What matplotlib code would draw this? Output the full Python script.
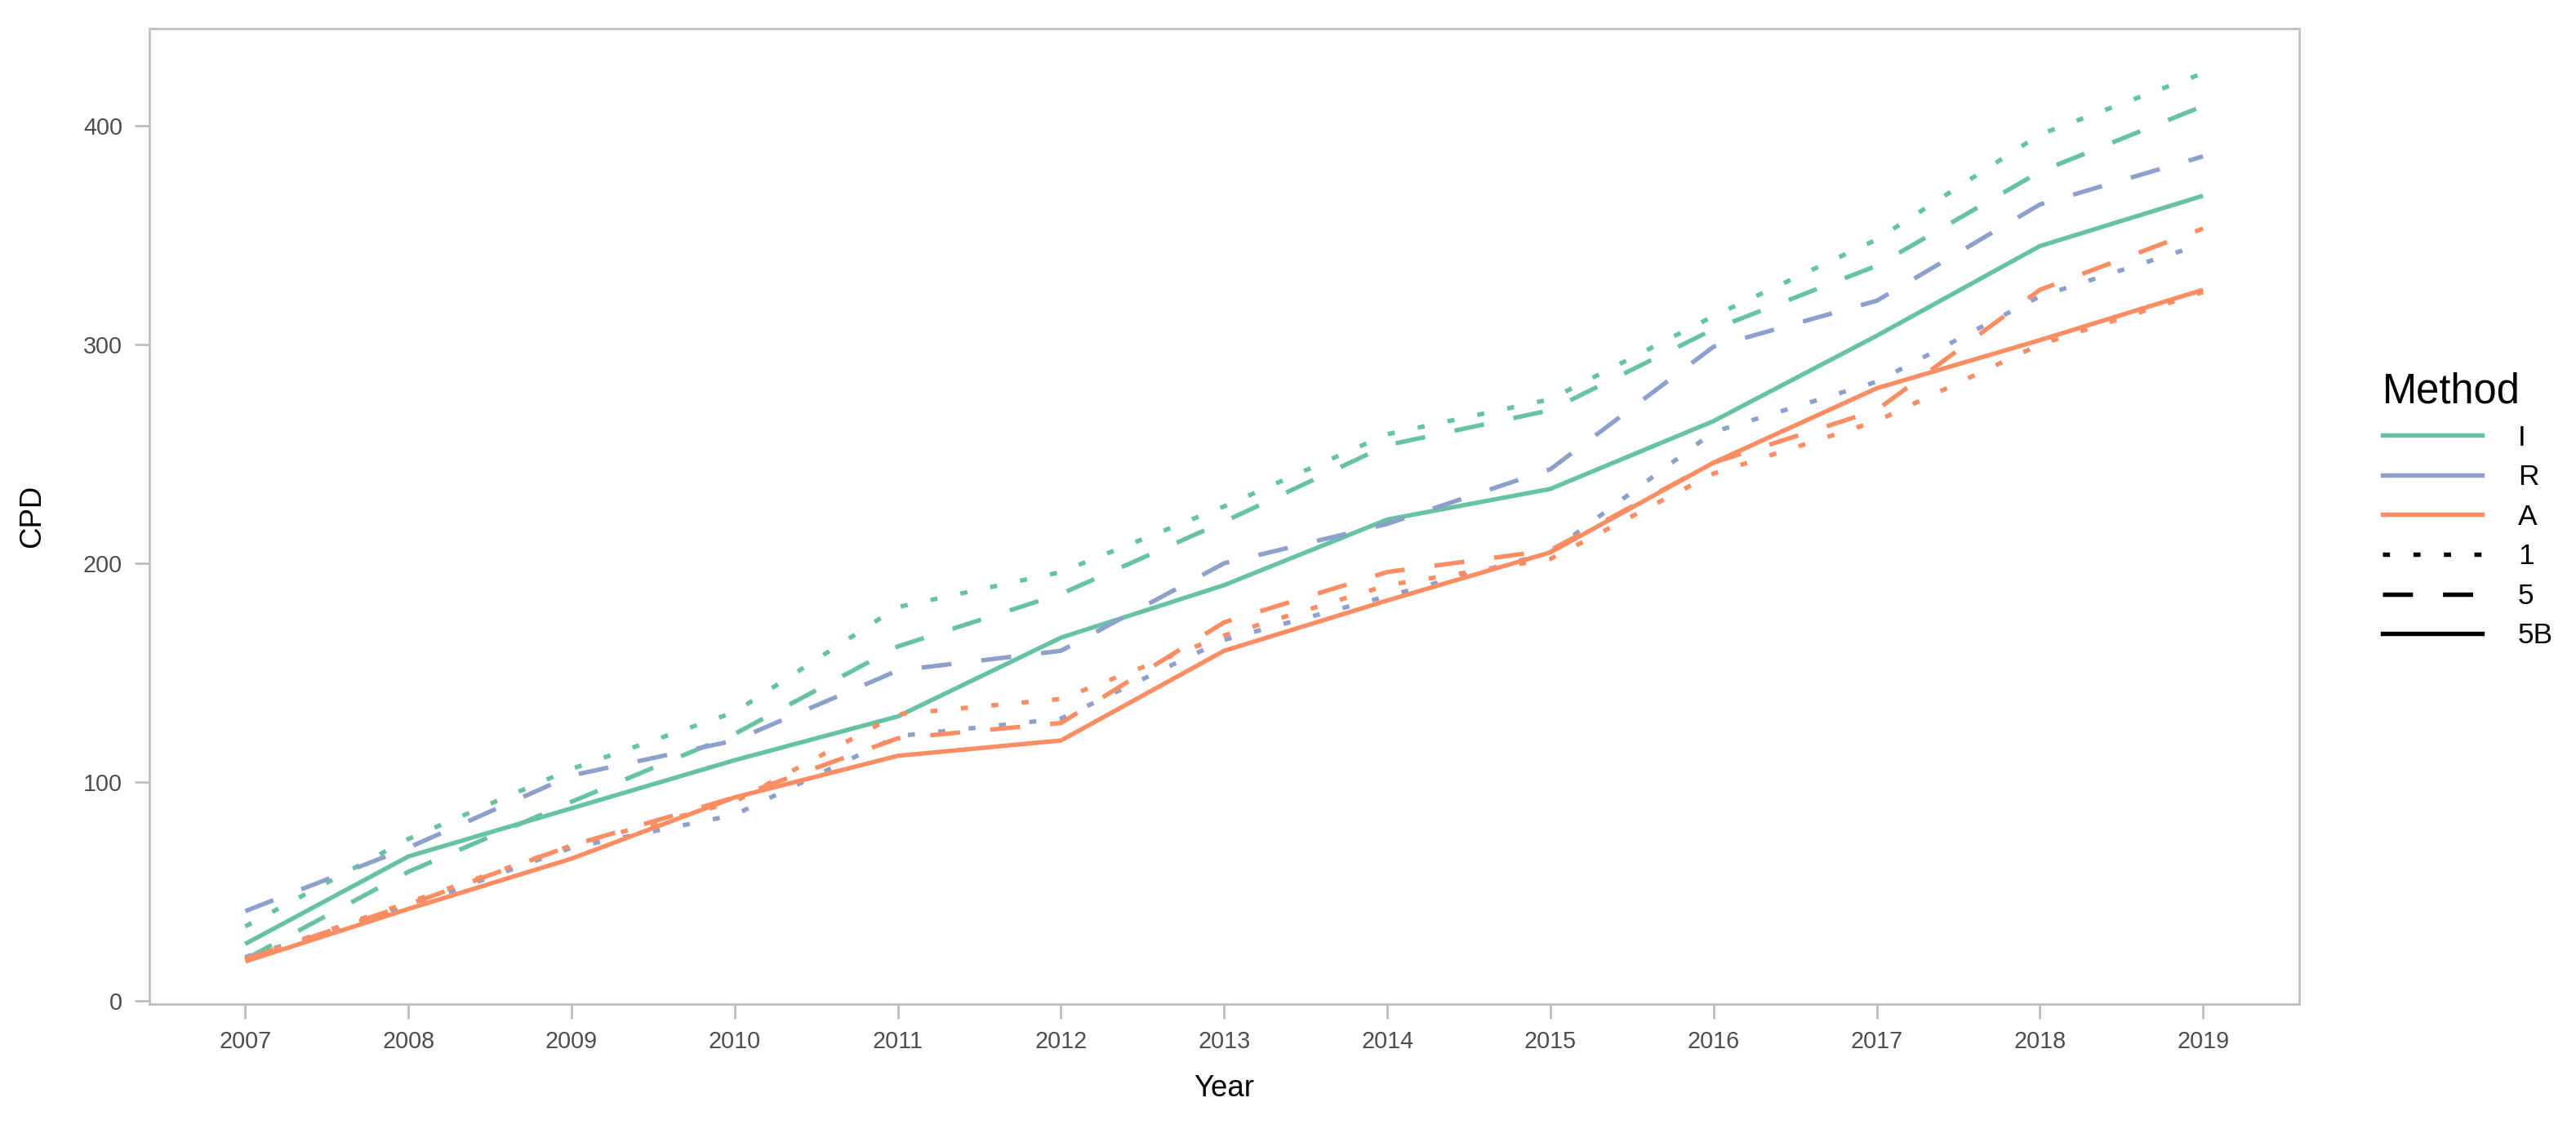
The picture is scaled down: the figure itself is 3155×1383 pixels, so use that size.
import matplotlib
matplotlib.use("Agg")
import matplotlib.pyplot as plt
from matplotlib.lines import Line2D

plt.rcParams['font.family'] = ['Liberation Sans', 'DejaVu Sans']

years = [2007, 2008, 2009, 2010, 2011, 2012, 2013, 2014, 2015, 2016, 2017, 2018, 2019]

# CPD per method (I, R, A) and variant (1, 5, 5B)
I_1 = [34, 74, 106, 132, 180, 196, 226, 259, 275, 313, 348, 396, 424]
I_5 = [19, 59, 91, 122, 162, 186, 219, 254, 270, 307, 336, 379, 409]
I_5B = [26, 66, 88, 110, 130, 166, 190, 220, 234, 265, 304, 345, 368]
R_1 = [20, 43, 70, 85, 121, 129, 165, 185, 205, 260, 283, 322, 346]
R_5 = [41, 70, 103, 119, 151, 160, 200, 218, 243, 299, 320, 364, 386]
A_1 = [19, 45, 71, 91, 131, 138, 167, 190, 202, 241, 265, 300, 324]
A_5 = [19, 44, 71, 93, 120, 127, 173, 196, 206, 246, 270, 325, 353]
A_5B = [18, 42, 65, 93, 112, 119, 160, 183, 205, 246, 280, 302, 325]

methods = ['I', 'R', 'A']
variants = ['1', '5', '5B']
colors = {'I': '#66C2A5', 'R': '#8DA0CB', 'A': '#FC8D62'}
styles = {'1': (0, (1.6, 5.3)), '5': (0, (6.8, 6.8)), '5B': '-'}

series = [
    ('I', '1', I_1), ('I', '5', I_5), ('I', '5B', I_5B),
    ('R', '1', R_1), ('R', '5', R_5),
    ('A', '1', A_1), ('A', '5', A_5), ('A', '5B', A_5B),
]

lw = 1.3
grey = '#BEBEBE'

fig = plt.figure(figsize=(3155 / 300, 1383 / 300), dpi=300)
ax = fig.add_axes([0.05785, 0.11063, 0.83471, 0.86421])

for m, v, vals in series:
    ax.plot(years, vals, color=colors[m], linestyle=styles[v], linewidth=lw,
            dash_capstyle='butt', solid_capstyle='butt')

ax.set_xlim(2006.41, 2019.59)
ax.set_ylim(-1.5, 444.5)
ax.set_xticks(years)
ax.set_xticklabels([str(y) for y in years])
ax.set_yticks([0, 100, 200, 300, 400])

for s in ax.spines.values():
    s.set_color(grey)
    s.set_linewidth(0.65)
ax.tick_params(axis='both', colors=grey, length=4.3, width=0.65,
               labelcolor='#4D4D4D', labelsize=6.9, pad=3.5)

ax.set_xlabel('Year', fontsize=8.8, color='black')
ax.set_ylabel('CPD', fontsize=8.8, color='black')
ax.xaxis.label.set_va('center')
ax.yaxis.label.set_va('center')
ax.xaxis.set_label_coords(0.5, -0.087)
ax.yaxis.set_label_coords(-0.0541, 0.5)

handles = [Line2D([], [], color=colors[m], linewidth=lw) for m in methods]
handles += [Line2D([], [], color='black', linewidth=lw, linestyle=styles[v],
                   dash_capstyle='butt') for v in variants]
labels = methods + variants

leg = fig.legend(handles, labels, title='Method', loc='upper left',
                 bbox_to_anchor=(2918 / 3155, 1 - 455 / 1383),
                 frameon=False, fontsize=8.5, title_fontsize=12.2,
                 handlelength=3.44, handletextpad=1.25, labelspacing=0.44,
                 borderpad=0, borderaxespad=0, alignment='left')

fig.savefig('out.png', dpi=300)
